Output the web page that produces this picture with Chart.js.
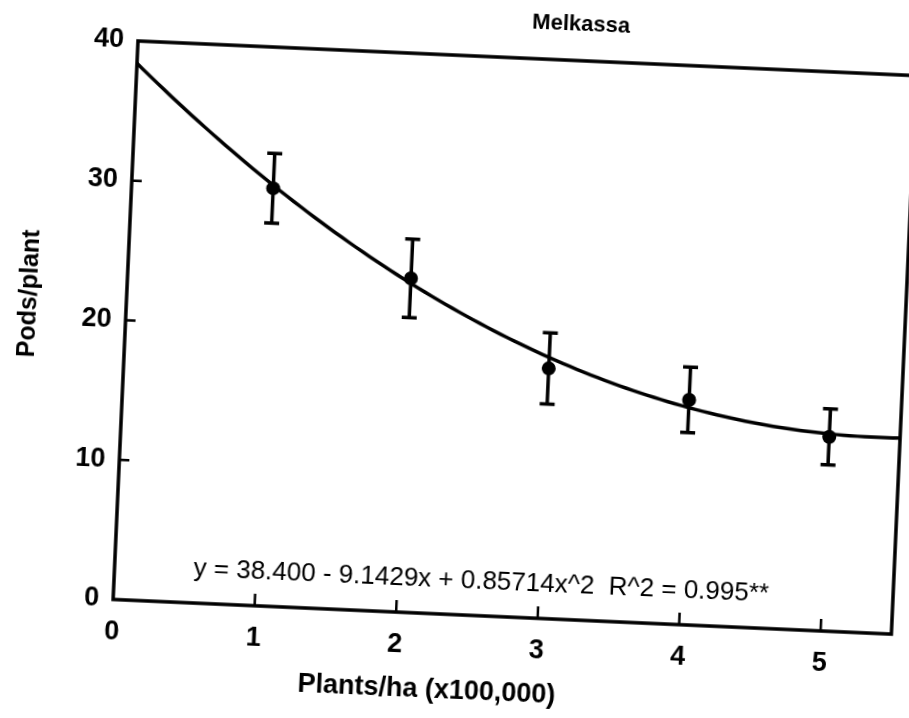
<!DOCTYPE html>
<html>
<head>
<meta charset="utf-8">
<title>Melkassa</title>
<script src="https://cdn.jsdelivr.net/npm/chart.js@4.4.0/dist/chart.umd.min.js"></script>
<style>
	html, body { margin: 0; padding: 0; background: #fff; width: 909px; height: 718px; overflow: hidden; }
	/* the whole plot sits slightly tilted on the page */
	#wrap { position: absolute; left: 0; top: -40px; width: 960px; height: 758px;
		transform: rotate(2.55deg); transform-origin: 138px 81px; }
</style>
</head>
<body>
<div id="wrap"><canvas id="pods"></canvas></div>
<script>
// plant density (x100,000 plants/ha) and mean pods per plant
var density = [1, 2, 3, 4, 5];
var podsMean = [29.9, 23.9, 17.9, 16.1, 13.9];
var podsErr = [2.5, 2.8, 2.55, 2.35, 2.0];

// quadratic fit  y = b0 + b1*x + b2*x^2
var fitCoef = [38.400, -9.1429, 0.85714];
var fitR2 = 0.995;

var xTicks = [0, 1, 2, 3, 4, 5];
var yTicks = [0, 10, 20, 30, 40];

var FONT = "'Liberation Sans', Arial, Helvetica, sans-serif";

// fitted curve, sampled along the x axis
var fitLine = [];
for (var i = 0; i <= 110; i++) {
	var x = i * 0.05;
	fitLine.push({ x: x, y: fitCoef[0] + fitCoef[1] * x + fitCoef[2] * x * x });
}

var points = [];
for (var i = 0; i < density.length; i++) {
	points.push({ x: density[i], y: podsMean[i] });
}

var eqText = 'y = ' + fitCoef[0].toFixed(3) + ' - ' + Math.abs(fitCoef[1]) + 'x + ' +
	fitCoef[2] + 'x^2  R^2 = ' + fitR2 + '**';

var errorBars = {
	id: 'errorBars',
	beforeDatasetsDraw: function(chart) {
		var ctx = chart.ctx, xs = chart.scales.x, ys = chart.scales.y;
		ctx.save();
		ctx.strokeStyle = '#000';
		ctx.lineWidth = 3.5;
		ctx.beginPath();
		for (var i = 0; i < density.length; i++) {
			var px = xs.getPixelForValue(density[i]);
			var top = ys.getPixelForValue(podsMean[i] + podsErr[i]);
			var bot = ys.getPixelForValue(podsMean[i] - podsErr[i]);
			ctx.moveTo(px, top); ctx.lineTo(px, bot);
			ctx.moveTo(px - 7.5, top); ctx.lineTo(px + 7.5, top);
			ctx.moveTo(px - 7.5, bot); ctx.lineTo(px + 7.5, bot);
		}
		ctx.stroke();
		ctx.restore();
	}
};

// box around the plot, inward tick marks and the free text
var frame = {
	id: 'frame',
	afterDraw: function(chart) {
		var ctx = chart.ctx, a = chart.chartArea;
		var xs = chart.scales.x, ys = chart.scales.y;
		ctx.save();
		ctx.strokeStyle = '#000';
		ctx.lineWidth = 3.5;
		ctx.strokeRect(a.left, a.top, a.right - a.left, a.bottom - a.top);

		ctx.lineWidth = 2.5;
		ctx.beginPath();
		for (var i = 0; i < xTicks.length; i++) {
			if (xTicks[i] == 0) continue;
			var px = xs.getPixelForValue(xTicks[i]);
			ctx.moveTo(px, a.bottom); ctx.lineTo(px, a.bottom - 12);
		}
		for (var i = 0; i < yTicks.length; i++) {
			if (yTicks[i] == 0 || yTicks[i] == 40) continue;
			var py = ys.getPixelForValue(yTicks[i]);
			ctx.moveTo(a.left, py); ctx.lineTo(a.left + 10, py);
		}
		ctx.stroke();

		ctx.fillStyle = '#000';
		ctx.textAlign = 'center';
		ctx.textBaseline = 'middle';

		ctx.font = 'bold 22px ' + FONT;
		ctx.fillText('Melkassa', a.left + 442, a.top - 36);

		ctx.font = '26px ' + FONT;
		ctx.fillText(eqText, a.left + 367, a.bottom - 34);

		ctx.font = 'bold 27px ' + FONT;
		ctx.fillText('Plants/ha (x100,000)', a.left + 317, a.bottom + 77);

		ctx.save();
		ctx.translate(a.left - 97, a.top + 257);
		ctx.rotate(-Math.PI / 2);
		ctx.font = 'bold 25px ' + FONT;
		ctx.fillText('Pods/plant', 0, 0);
		ctx.restore();

		ctx.restore();
	}
};

new Chart(document.getElementById('pods'), {
	type: 'scatter',
	data: {
		datasets: [{
			label: 'fit',
			data: fitLine,
			showLine: true,
			borderColor: '#000',
			borderWidth: 3.5,
			pointRadius: 0,
			tension: 0
		}, {
			label: 'Pods/plant',
			data: points,
			backgroundColor: '#000',
			borderColor: '#000',
			borderWidth: 0,
			pointRadius: 7
		}]
	},
	options: {
		responsive: true,
		maintainAspectRatio: false,
		animation: false,
		layout: {
			padding: { left: 78, top: 81, right: 43, bottom: 58 }
		},
		plugins: {
			legend: { display: false },
			tooltip: { enabled: false }
		},
		scales: {
			x: {
				type: 'linear',
				min: 0,
				max: 5.5,
				grid: { display: false, drawTicks: false },
				border: { display: false },
				afterBuildTicks: function(axis) {
					axis.ticks = xTicks.map(function(v) { return { value: v }; });
				},
				afterFit: function(axis) { axis.height = 60; },
				ticks: {
					color: '#000',
					padding: 16,
					maxRotation: 0,
					font: { family: FONT, size: 27, weight: 'bold' }
				}
			},
			y: {
				min: 0,
				max: 40,
				grid: { display: false, drawTicks: false },
				border: { display: false },
				afterBuildTicks: function(axis) {
					axis.ticks = yTicks.map(function(v) { return { value: v }; });
				},
				afterFit: function(axis) { axis.width = 60; },
				ticks: {
					color: '#000',
					padding: 14,
					font: { family: FONT, size: 27, weight: 'bold' }
				}
			}
		}
	},
	plugins: [errorBars, frame]
});
</script>
</body>
</html>
